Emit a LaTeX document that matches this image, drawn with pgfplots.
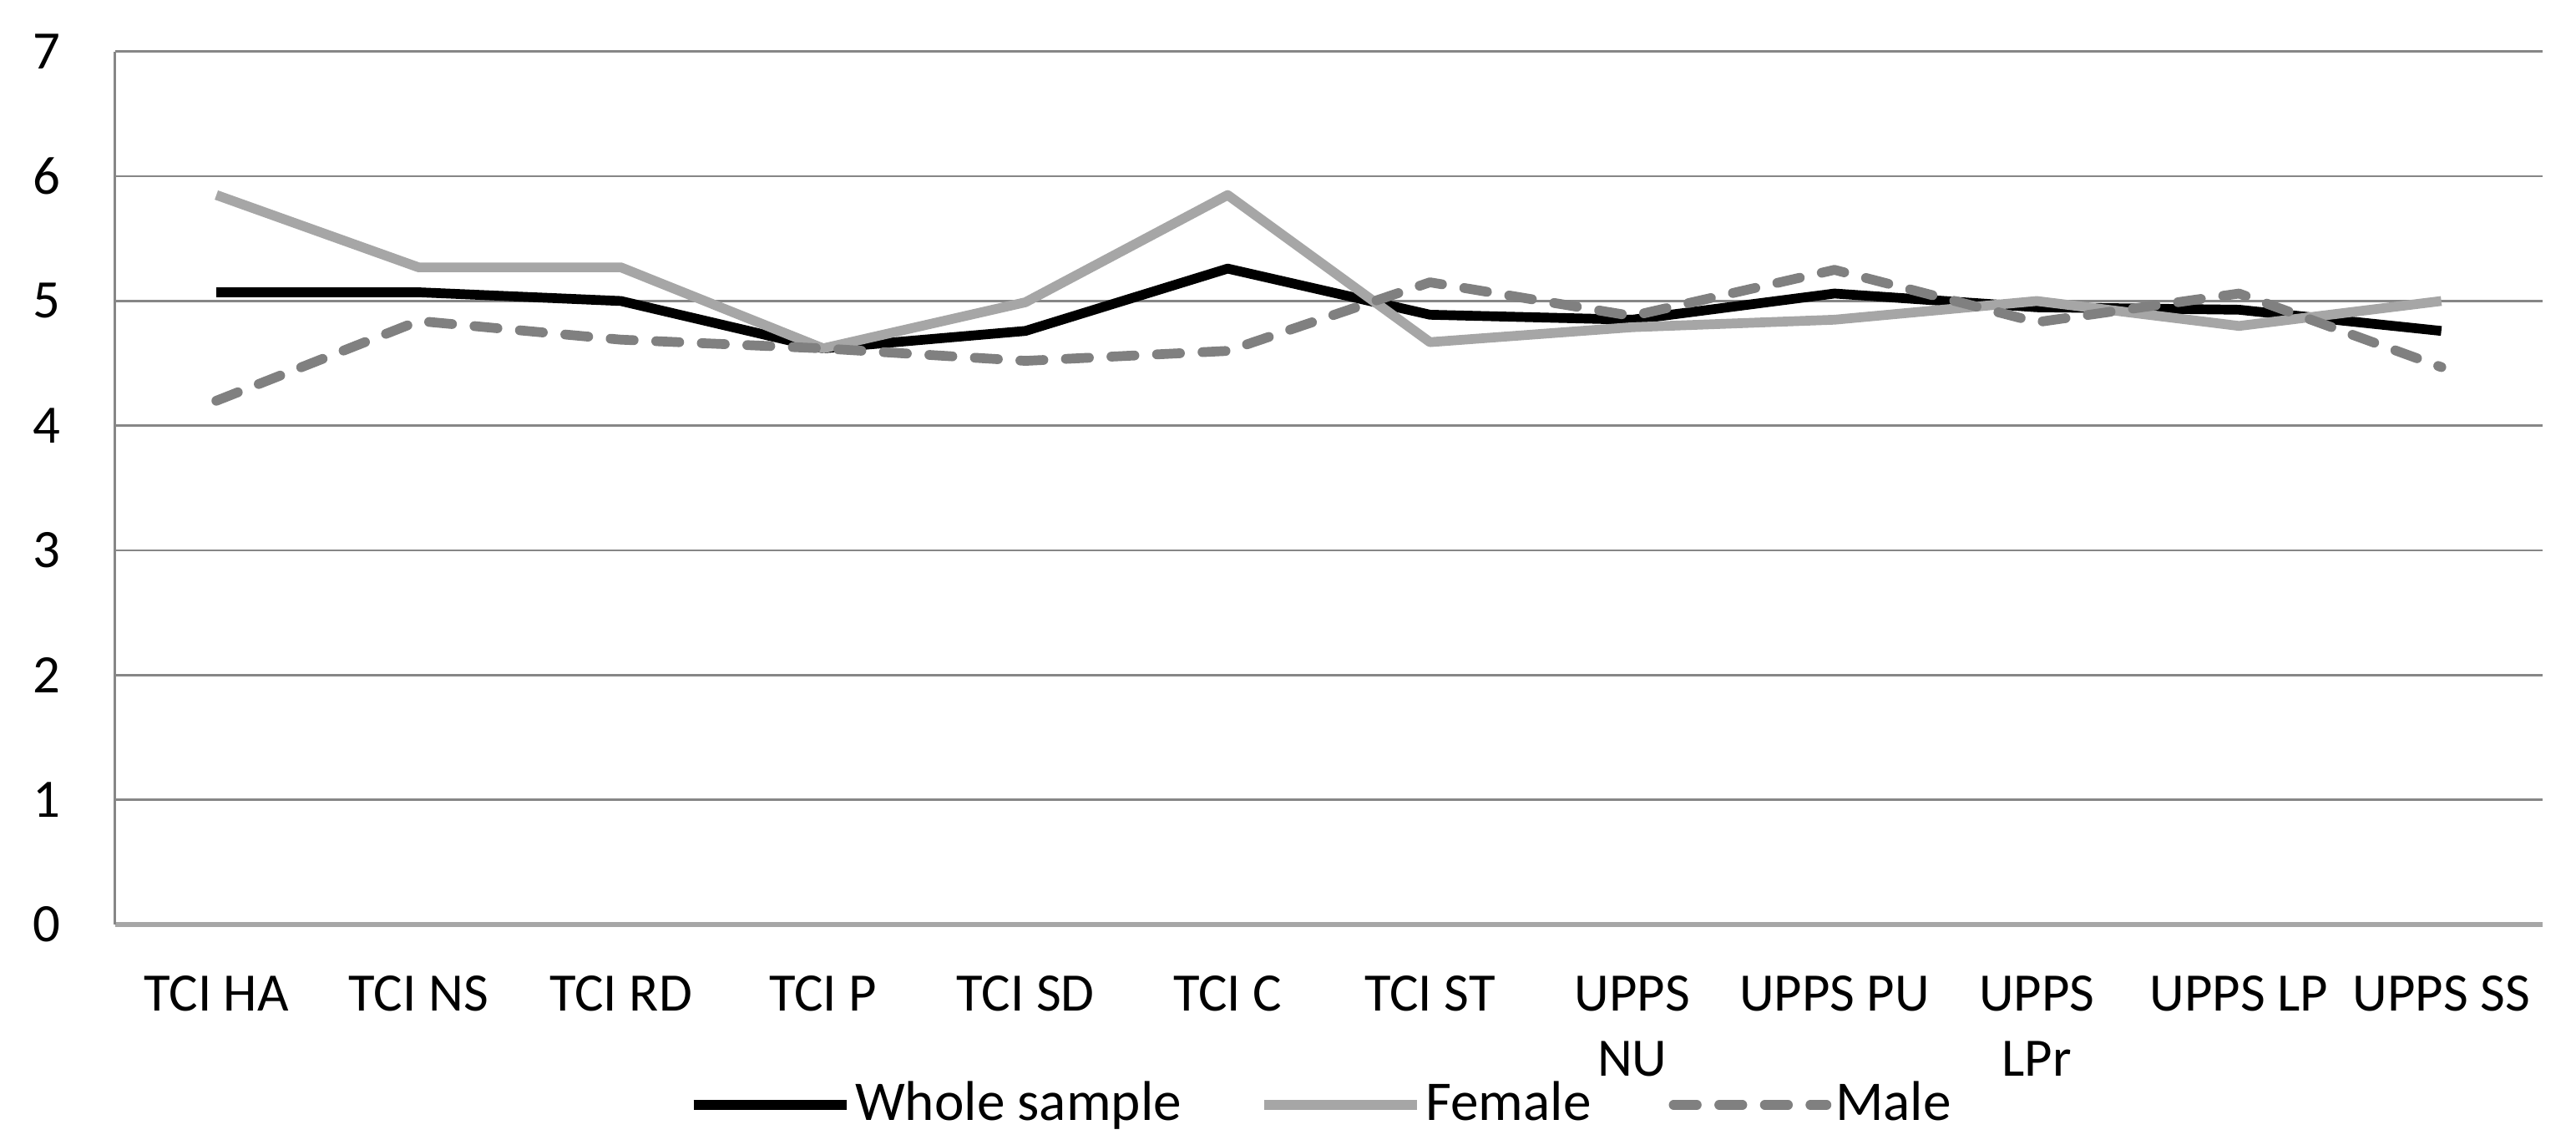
\documentclass[border=0pt]{standalone}
\usepackage{pgfplots}
\pgfplotsset{compat=1.18}
\usepackage{fontspec}
\setmainfont{Carlito}
\definecolor{gridc}{RGB}{134,134,134}
\definecolor{femc}{RGB}{166,166,166}
\definecolor{malec}{RGB}{128,128,128}
\begin{document}
\begin{tikzpicture}
\begin{axis}[
  name=ax,
  scale only axis,
  width=484.5pt, height=174.2pt,
  xmin=-0.5, xmax=11.5,
  ymin=0, ymax=7,
  ytick={0,1,2,3,4,5,6,7},
  xtick={0,1,2,3,4,5,6,7,8,9,10,11},
  xticklabels={TCI HA,TCI NS,TCI RD,TCI P,TCI SD,TCI C,TCI ST,{UPPS\\NU},UPPS PU,{UPPS\\LPr},UPPS LP,UPPS SS},
  /pgf/number format/assume math mode=true,
  font=\fontsize{10.8}{13}\selectfont,
  tick style={draw=none},
  axis x line*=bottom, axis y line*=left,
  axis line style={-},
  y axis line style={draw=gridc, line width=0.5pt},
  x axis line style={draw=femc, line width=0.85pt},
  ymajorgrids,
  major grid style={draw=gridc, line width=0.45pt},
  yticklabel style={anchor=east, inner sep=0pt, xshift=-10.8pt},
  xticklabel style={anchor=north, inner sep=0pt, yshift=-10pt, align=center},
  legend columns=3,
  legend style={at={(0.5,0)}, anchor=center, yshift=-36pt, xshift=-1.8pt, draw=none, fill=none,
    font=\fontsize{11.2}{13}\selectfont,
    nodes={inner sep=0pt},
    /tikz/every odd column/.append style={column sep=0.8pt},
    /tikz/every even column/.append style={column sep=15.5pt}},
  legend image code/.code={\draw[#1] (0pt,0pt) -- (30.5pt,0pt);},
  every axis plot/.append style={line width=1.95pt, line join=round},
]
\addplot[black, line cap=butt] coordinates {
(0,5.07) (1,5.07) (2,5.00) (3,4.62) (4,4.76) (5,5.26) (6,4.89) (7,4.85) (8,5.06) (9,4.95) (10,4.93) (11,4.76)};
\addlegendentry{Whole sample}
\addplot[femc, line cap=butt] coordinates {
(0,5.85) (1,5.27) (2,5.27) (3,4.62) (4,4.99) (5,5.85) (6,4.67) (7,4.79) (8,4.85) (9,5.00) (10,4.80) (11,5.00)};
\addlegendentry{Female}
\addplot[malec, line cap=round, dash pattern=on 4.6pt off 4.5pt] coordinates {
(0,4.20) (1,4.84) (2,4.69) (3,4.62) (4,4.52) (5,4.60) (6,5.15) (7,4.88) (8,5.25) (9,4.83) (10,5.06) (11,4.47)};
\addlegendentry{Male}
\end{axis}
\pgfresetboundingbox
\path[use as bounding box] ([xshift=-23pt,yshift=-44pt]ax.south west) rectangle ([xshift=6.7pt,yshift=10.3pt]ax.north east);
\end{tikzpicture}
\end{document}
